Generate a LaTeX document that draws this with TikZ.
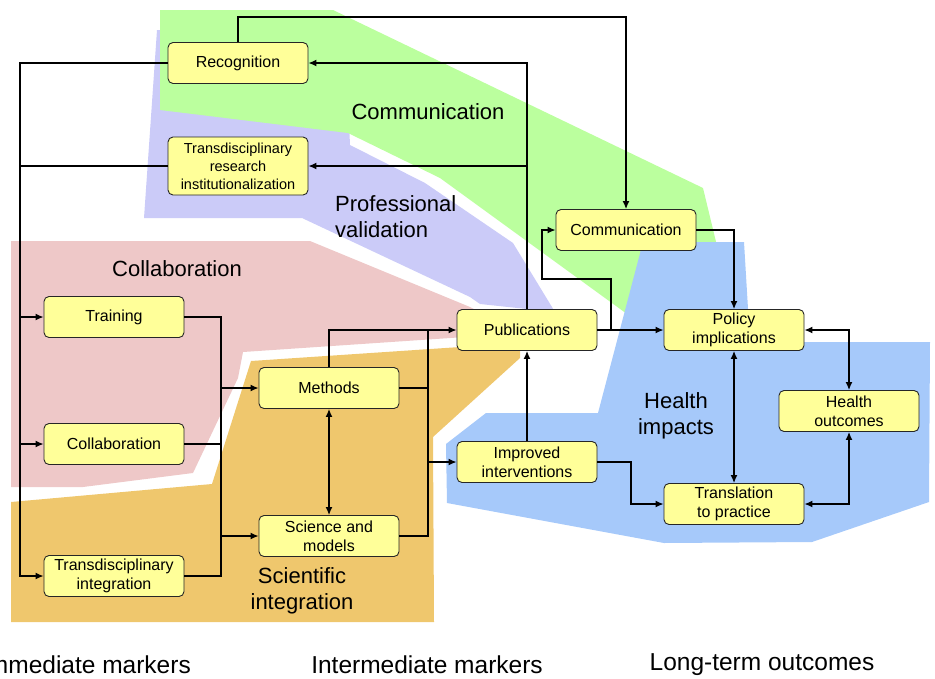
\documentclass[tikz,border=0pt]{standalone}
\usepackage{fontspec}
\setmainfont{Liberation Sans}
\usetikzlibrary{arrows.meta}
\definecolor{cgreen}{HTML}{BBFF9E}
\definecolor{clav}{HTML}{CBCBF8}
\definecolor{cpink}{HTML}{EEC8C8}
\definecolor{corange}{HTML}{EFC76D}
\definecolor{cblue}{HTML}{A6C9FA}
\definecolor{cbox}{HTML}{FFFF99}
\begin{document}
\begin{tikzpicture}[x=1pt,y=-1pt,
  box/.style={draw=black!85, line width=0.9pt, fill=cbox, rounded corners=5pt, minimum width=140pt, minimum height=41pt, align=center, inner sep=1pt, font=\fontsize{16}{19}\selectfont},
  conn/.style={line width=1.3pt, black},
  arr/.style={conn, -{Latex[length=8pt,width=7pt]}},
  darr/.style={conn, {Latex[length=8pt,width=7pt]}-{Latex[length=8pt,width=7pt]}},
  big/.style={font=\fontsize{22}{26}\selectfont, align=center},
  foot/.style={font=\fontsize{24.5}{28}\selectfont, inner sep=0pt}]
\useasboundingbox (0,0) rectangle (935,678);

% regions
\fill[clav] (157,30) -- (345,30) -- (350,145) -- (425,183) -- (513,243) -- (555,312) -- (480,304) -- (470,297) -- (302,218) -- (144,218) -- cycle;
\fill[cgreen] (160,10) -- (333,10) -- (703,188) -- (718,250) -- (627,314) -- (440,178) -- (348,133) -- (160,110) -- cycle;
\fill[cpink] (11,241) -- (310,241) -- (470,307) -- (480,312) -- (480,336) -- (243,352) -- (238,378) -- (193,473) -- (83,487) -- (11,487) -- cycle;
\fill[corange] (11,502) -- (212,484) -- (251,361) -- (520,343) -- (520,358) -- (433,437) -- (434,622) -- (11,622) -- cycle;
\fill[cblue] (643,242) -- (744,242) -- (750,342) -- (930,342) -- (929,502) -- (812,542) -- (664,543) -- (447,503) -- (446,444) -- (486,413) -- (598,413) -- cycle;

% region labels
\node[big] (lcomm) at (428,112) {Communication};
\node[big, align=left, anchor=west, inner sep=0pt] (lprof) at (335,217) {Professional\\validation};
\node[big] (lcoll) at (177,269) {Collaboration};
\node[big] (lhealth) at (676,416) {Health\\impacts};
\node[big] (lsci) at (302,591) {Scientific\\integration};

% boxes
\node[box] (rec) at (238,63) {Recognition};
\node[box, font=\fontsize{14.5}{18}\selectfont, minimum height=58pt] (tri) at (238,166) {Transdisciplinary\\research\\institutionalization};
\node[box] (comm) at (626,230) {Communication};
\node[box] (train) at (114,317) {Training};
\node[box] (collab) at (114,444) {Collaboration};
\node[box] (ti) at (114,576) {Transdisciplinary\\integration};
\node[box] (meth) at (329,388) {Methods};
\node[box] (sci) at (329,536) {Science and\\models};
\node[box] (pub) at (527,330) {Publications};
\node[box] (imp) at (527,462) {Improved\\interventions};
\node[box] (pol) at (734,330) {Policy\\implications};
\node[box] (trans) at (734,504) {Translation\\to practice};
\node[box] (ho) at (849,411) {Health\\outcomes};

% bend coordinates
\coordinate (L) at (20,0);
\coordinate (B2) at (221,0);
\coordinate (B3) at (428,0);
\coordinate (T) at (0,17);
\coordinate (P1) at (611,330);
\coordinate (P2) at (542,279);
\coordinate (I1) at (631,0);

% connectors
\draw[arr] (rec.west) -| (L |- ti.west) -- (ti.west);
\draw[conn] (tri.west) -- (tri.west -| L);
\draw[arr] (train.west -| L) -- (train.west);
\draw[arr] (collab.west -| L) -- (collab.west);
\draw[conn] (train.east) -| (B2 |- ti.east) -- (ti.east);
\draw[conn] (collab.east) -- (collab.east -| B2);
\draw[arr] (meth.west -| B2) -- (meth.west);
\draw[arr] (sci.west -| B2) -- (sci.west);
\draw[arr] (meth.north) |- (pub.west);
\draw[conn] (meth.east) -| (B3 |- pub.west);
\draw[conn] (sci.east) -| (B3 |- meth.east);
\draw[arr] (imp.west -| B3) -- (imp.west);
\draw[darr] (meth.south) -- (sci.north);
\draw[arr] (imp.north) -- (pub.south);
\draw[arr] (pub.north) |- (rec.east);
\draw[arr] (pub.north |- tri.east) -- (tri.east);
\draw[arr] (rec.north) |- (T -| comm.north) -- (comm.north);
\draw[arr] (pub.east) -- (pol.west);
\draw[arr] (P1) |- (P2) |- (comm.west);
\draw[arr] (comm.east) -| (pol.north);
\draw[darr] (pol.south) -- (trans.north);
\draw[darr] (pol.east) -| (ho.north);
\draw[darr] (trans.east) -| (ho.south);
\draw[arr] (imp.east) -| (I1 |- trans.west) -- (trans.west);

% footer labels
\node[foot, anchor=east] (fm1) at (191,665) {Immediate markers};
\node[foot] (fm2) at (427,665) {Intermediate markers};
\node[foot] (fm3) at (762,665) {Long-term outcomes};
\end{tikzpicture}
\end{document}
